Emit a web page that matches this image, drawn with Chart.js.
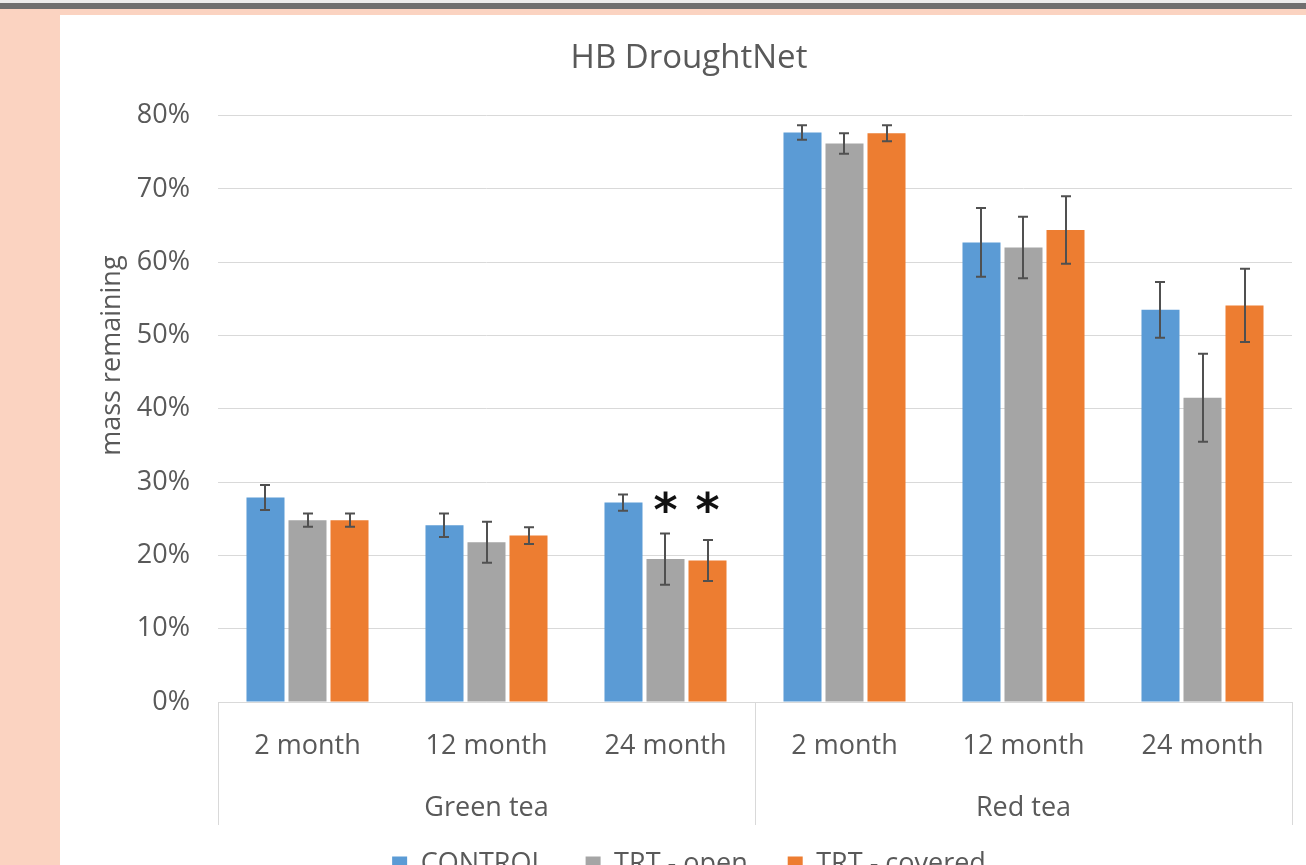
<!DOCTYPE html>
<html>
<head>
<meta charset="utf-8">
<title>HB DroughtNet</title>
<script src="https://cdn.jsdelivr.net/npm/chart.js@4.4.1/dist/chart.umd.min.js"></script>
<style>
  html, body { margin: 0; padding: 0; width: 1306px; height: 865px; overflow: hidden; background: #fbd3c1; }
  .topedge { position: absolute; left: 0; top: 0; width: 100%; height: 3px; background: #ececec; }
  .topline { position: absolute; left: 0; top: 3px; width: 100%; height: 6px; background: #6f6f6f; }
  .card { position: absolute; left: 60px; top: 15px; width: 1258px; height: 900px; background: #fff; }
  #chart { position: absolute; left: 0; top: 1px; }
</style>
</head>
<body>
<div class="topedge"></div>
<div class="topline"></div>
<div class="card"><canvas id="chart" width="1258" height="880"></canvas></div>
<script>
/* HB DroughtNet — litter bag mass remaining */

// ===== データ =====
var months = ["2 month", "12 month", "24 month", "2 month", "12 month", "24 month"];
var teaTypes = ["Green tea", "Red tea"];
var teaSpan = [3, 3];                 // months per tea type

var control       = [27.9, 24.1, 27.2, 77.7, 62.7, 53.5];
var controlErr    = [1.7, 1.6, 1.1, 1.0, 4.7, 3.8];
var trtOpen       = [24.8, 21.8, 19.5, 76.2, 62.0, 41.5];
var trtOpenErr    = [0.9, 2.8, 3.5, 1.4, 4.2, 6.0];
var trtCovered    = [24.8, 22.7, 19.3, 77.6, 64.4, 54.1];
var trtCoveredErr = [0.9, 1.15, 2.8, 1.1, 4.6, 5.0];

var yMax = 80, yStep = 10;

// significance stars: [dataset, category]
var sigMarks = [[1, 2], [2, 2]];
var sigLevel = 27.3;

var FONT = "Open Sans";
var TEXT = "#595959";
var LINE = "#d9d9d9";

// ===== エラーバー =====
var errorBars = {
  id: "errorBars",
  afterDatasetsDraw: function (chart) {
    var ctx = chart.ctx, y = chart.scales.y;
    ctx.save();
    ctx.strokeStyle = "#505050";
    ctx.lineWidth = 2;
    chart.data.datasets.forEach(function (ds, i) {
      if (!ds.errors) return;
      chart.getDatasetMeta(i).data.forEach(function (bar, j) {
        var v = ds.data[j], e = ds.errors[j];
        var top = y.getPixelForValue(v + e), bot = y.getPixelForValue(v - e);
        var x = Math.round(bar.x);
        ctx.beginPath();
        ctx.moveTo(x, top); ctx.lineTo(x, bot);
        ctx.moveTo(x - 5, top); ctx.lineTo(x + 5, top);
        ctx.moveTo(x - 5, bot); ctx.lineTo(x + 5, bot);
        ctx.stroke();
      });
    });
    ctx.restore();
  }
};

// ===== 2段目のカテゴリ（茶の種類） =====
var teaGroups = {
  id: "teaGroups",
  afterDraw: function (chart) {
    var ctx = chart.ctx, x = chart.scales.x;
    var step = (x.right - x.left) / months.length;
    var top = x.top, bottom = x.top + 123;
    ctx.save();
    ctx.strokeStyle = LINE;
    ctx.lineWidth = 1;
    ctx.fillStyle = TEXT;
    ctx.font = "27px '" + FONT + "'";
    ctx.textAlign = "center";
    ctx.textBaseline = "middle";
    var vline = function (px) {
      px = Math.round(px) + 0.5;
      ctx.beginPath(); ctx.moveTo(px, top); ctx.lineTo(px, bottom); ctx.stroke();
    };
    vline(x.left);
    var start = 0;
    teaTypes.forEach(function (name, g) {
      var end = start + teaSpan[g];
      var xl = x.getPixelForTick(start) - step / 2;
      var xr = x.getPixelForTick(end - 1) + step / 2;
      vline(xr);
      ctx.fillText(name, (xl + xr) / 2, top + 106);
      start = end;
    });
    ctx.restore();
  }
};

// ===== 縦軸タイトル =====
var yTitle = {
  id: "yTitle",
  afterDraw: function (chart) {
    var ctx = chart.ctx, a = chart.chartArea;
    ctx.save();
    ctx.translate(a.left - 106, a.top + 240);
    ctx.rotate(-Math.PI / 2);
    ctx.fillStyle = TEXT;
    ctx.font = "27px '" + FONT + "'";
    ctx.textAlign = "center";
    ctx.textBaseline = "middle";
    ctx.fillText("mass remaining", 0, 0);
    ctx.restore();
  }
};

// ===== 有意差マーク =====
var stars = {
  id: "stars",
  afterDatasetsDraw: function (chart) {
    var ctx = chart.ctx, y = chart.scales.y;
    ctx.save();
    ctx.fillStyle = "#111";
    ctx.font = "bold 46px 'DejaVu Sans'";
    ctx.textAlign = "center";
    ctx.textBaseline = "alphabetic";
    var m = ctx.measureText("*");
    var shift = (m.actualBoundingBoxAscent - m.actualBoundingBoxDescent) / 2;
    var cy = y.getPixelForValue(sigLevel);
    sigMarks.forEach(function (s) {
      var bar = chart.getDatasetMeta(s[0]).data[s[1]];
      ctx.fillText("*", bar.x, cy + shift);
    });
    ctx.restore();
  }
};

new Chart(document.getElementById("chart"), {
  type: "bar",
  data: {
    labels: months,
    datasets: [
      { label: "CONTROL", data: control, errors: controlErr, backgroundColor: "#5b9bd5" },
      { label: "TRT - open", data: trtOpen, errors: trtOpenErr, backgroundColor: "#a5a5a5" },
      { label: "TRT - covered", data: trtCovered, errors: trtCoveredErr, backgroundColor: "#ed7d31" }
    ]
  },
  options: {
    responsive: false,
    animation: false,
    layout: { padding: { left: 26, right: 26, top: 0, bottom: 8.5 } },
    datasets: { bar: { categoryPercentage: 0.704, barPercentage: 0.905 } },
    plugins: {
      title: {
        display: true,
        text: "HB DroughtNet",
        color: TEXT,
        font: { family: FONT, size: 33, weight: "normal" },
        padding: { top: 23, bottom: 37 }
      },
      legend: {
        position: "bottom",
        labels: {
          color: TEXT,
          font: { family: FONT, size: 27 },
          boxWidth: 15,
          boxHeight: 15,
          padding: 40
        }
      },
      tooltip: { enabled: false }
    },
    scales: {
      x: {
        grid: { display: false },
        border: { color: LINE },
        ticks: { color: TEXT, font: { family: FONT, size: 27 }, padding: 20, maxRotation: 0, autoSkip: false },
        afterFit: function (s) { s.height = 108.5; }
      },
      y: {
        min: 0,
        max: yMax,
        grid: { color: LINE, drawTicks: false },
        border: { display: false },
        ticks: {
          stepSize: yStep,
          padding: 28,
          color: TEXT,
          font: { family: FONT, size: 27 },
          callback: function (v) { return v + "%"; }
        },
        afterFit: function (s) { s.width = 132; }
      }
    }
  },
  plugins: [errorBars, teaGroups, yTitle, stars]
});
</script>
</body>
</html>
